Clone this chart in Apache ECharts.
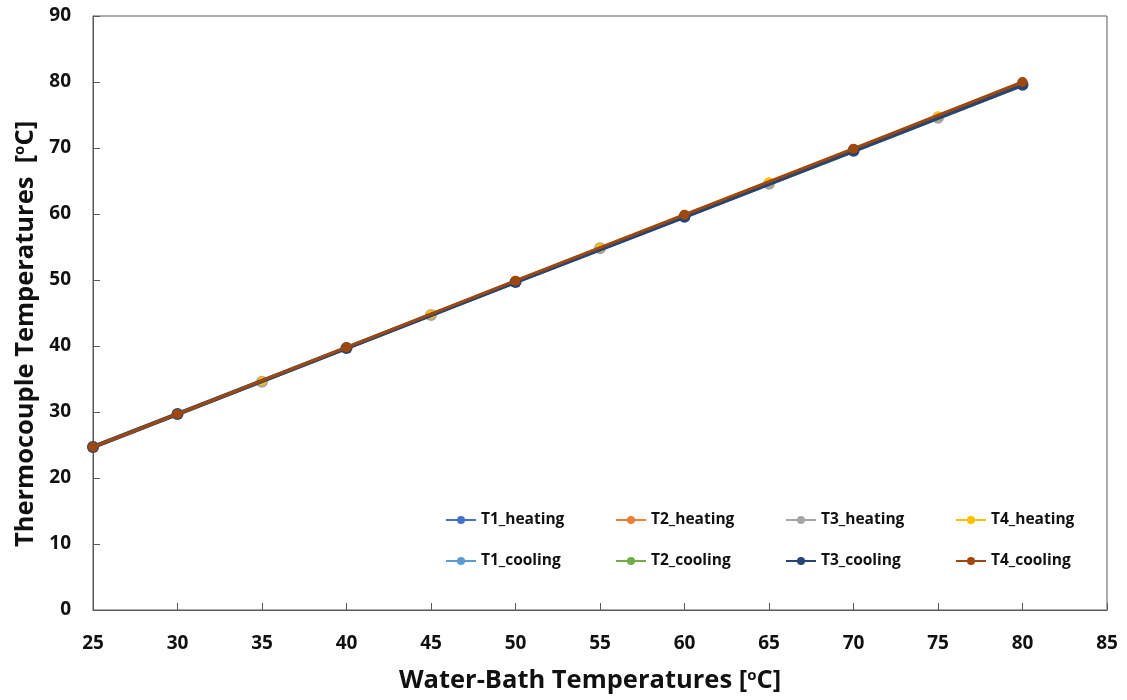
<!DOCTYPE html>
<html>
<head>
<meta charset="utf-8">
<script src="https://cdn.jsdelivr.net/npm/echarts@6/dist/echarts.min.js"></script>
<style>
  html, body { margin: 0; padding: 0; background: #fff; }
  #chart { width: 1127px; height: 700px; }
</style>
</head>
<body>
<div id="chart"></div>
<script>
// Water-bath set points (heating run goes up, cooling run comes back down)
const heatingX = [25, 35, 45, 55, 65, 75];
const coolingX = [80, 70, 60, 50, 40, 30, 25];

// Thermocouple readings, °C
const t1Heating = [24.8, 34.7, 44.7, 54.7, 64.6, 74.6];
const t2Heating = [24.7, 34.6, 44.6, 54.7, 64.7, 74.7];
const t3Heating = [24.7, 34.6, 44.7, 54.8, 64.6, 74.6];
const t4Heating = [24.8, 34.7, 44.8, 54.9, 64.9, 74.9];
const t1Cooling = [79.6, 69.6, 59.6, 49.7, 39.7, 29.7, 24.7];
const t2Cooling = [79.4, 69.4, 59.5, 49.6, 39.6, 29.6, 24.6];
const t3Cooling = [79.6, 69.6, 59.6, 49.7, 39.7, 29.7, 24.7];
const t4Cooling = [80.0, 69.9, 59.9, 49.9, 39.8, 29.7, 24.7];

const seriesNames = ['T1_heating', 'T2_heating', 'T3_heating', 'T4_heating',
                     'T1_cooling', 'T2_cooling', 'T3_cooling', 'T4_cooling'];
const seriesX = [heatingX, heatingX, heatingX, heatingX, coolingX, coolingX, coolingX, coolingX];
const seriesY = [t1Heating, t2Heating, t3Heating, t4Heating, t1Cooling, t2Cooling, t3Cooling, t4Cooling];
const colors = ['#4472C4', '#ED7D31', '#A5A5A5', '#FFC000', '#5B9BD5', '#70AD47', '#264478', '#9E480E'];
const lineWidths = [2.5, 2.5, 3, 2.5, 2.5, 2.5, 4.5, 3];
const symbolSizes = [8, 8, 12, 9, 8, 8, 12, 10];

const FONT = '"Open Sans", Lato, sans-serif';

const series = seriesNames.map((name, i) => ({
  name: name,
  type: 'line',
  data: seriesX[i].map((x, k) => [x, seriesY[i][k]]),
  symbol: 'circle',
  symbolSize: symbolSizes[i],
  showSymbol: true,
  itemStyle: { color: colors[i] },
  lineStyle: { color: colors[i], width: lineWidths[i] },
  z: 2 + i,
  animation: false
}));

// One legend per entry, laid out on a 4 x 2 grid
const legendCols = [440, 610, 780, 950];
const legendRows = [507, 548];
const legends = seriesNames.map((name, i) => ({
  data: [name],
  left: legendCols[i % 4],
  top: legendRows[Math.floor(i / 4)],
  orient: 'horizontal',
  itemWidth: 30,
  itemHeight: 10,
  itemGap: 4,
  selectedMode: false,
  textStyle: { fontFamily: FONT, fontWeight: 'bold', fontSize: 15.5, color: '#111' }
}));

const nameRich = {
  sup: { fontFamily: FONT, fontWeight: 'bold', fontSize: 15, verticalAlign: 'top', color: '#111', padding: [0, 0, 10, 0] }
};

const option = {
  backgroundColor: '#fff',
  animation: false,
  grid: {
    left: 93, right: 20, top: 16, bottom: 90,
    outerBoundsMode: 'none',
    containLabel: false,
    show: true, borderColor: '#595959', borderWidth: 1, backgroundColor: 'transparent'
  },
  legend: legends,
  xAxis: {
    type: 'value',
    min: 25, max: 85, interval: 5,
    name: 'Water-Bath Temperatures [{sup|o}C]',
    nameLocation: 'middle',
    nameGap: 58,
    nameTextStyle: {
      fontFamily: FONT, fontWeight: 'bold', fontSize: 25.5, color: '#111', rich: nameRich,
      padding: [0, 20, 0, 0]
    },
    axisLine: { show: true, onZero: false, lineStyle: { color: '#595959', width: 1 } },
    axisTick: { show: true, inside: true, length: 7, lineStyle: { color: '#595959' } },
    axisLabel: { fontFamily: FONT, fontWeight: 'bold', fontSize: 19, color: '#111', margin: 24 },
    splitLine: { show: false }
  },
  yAxis: {
    type: 'value',
    min: 0, max: 90, interval: 10,
    name: 'Thermocouple Temperatures  [{sup|o}C]',
    nameLocation: 'middle',
    nameGap: 54,
    nameTextStyle: {
      fontFamily: FONT, fontWeight: 'bold', fontSize: 25.5, color: '#111', rich: nameRich,
      padding: [0, 42, 0, 0]
    },
    axisLine: { show: true, onZero: false, lineStyle: { color: '#595959', width: 1 } },
    axisTick: { show: true, inside: true, length: 7, lineStyle: { color: '#595959' } },
    axisLabel: { fontFamily: FONT, fontWeight: 'bold', fontSize: 19, color: '#111', margin: 22 },
    splitLine: { show: false }
  },
  series: series
};

const chart = echarts.init(document.getElementById('chart'), null, { renderer: 'canvas' });
chart.setOption(option);
</script>
</body>
</html>
